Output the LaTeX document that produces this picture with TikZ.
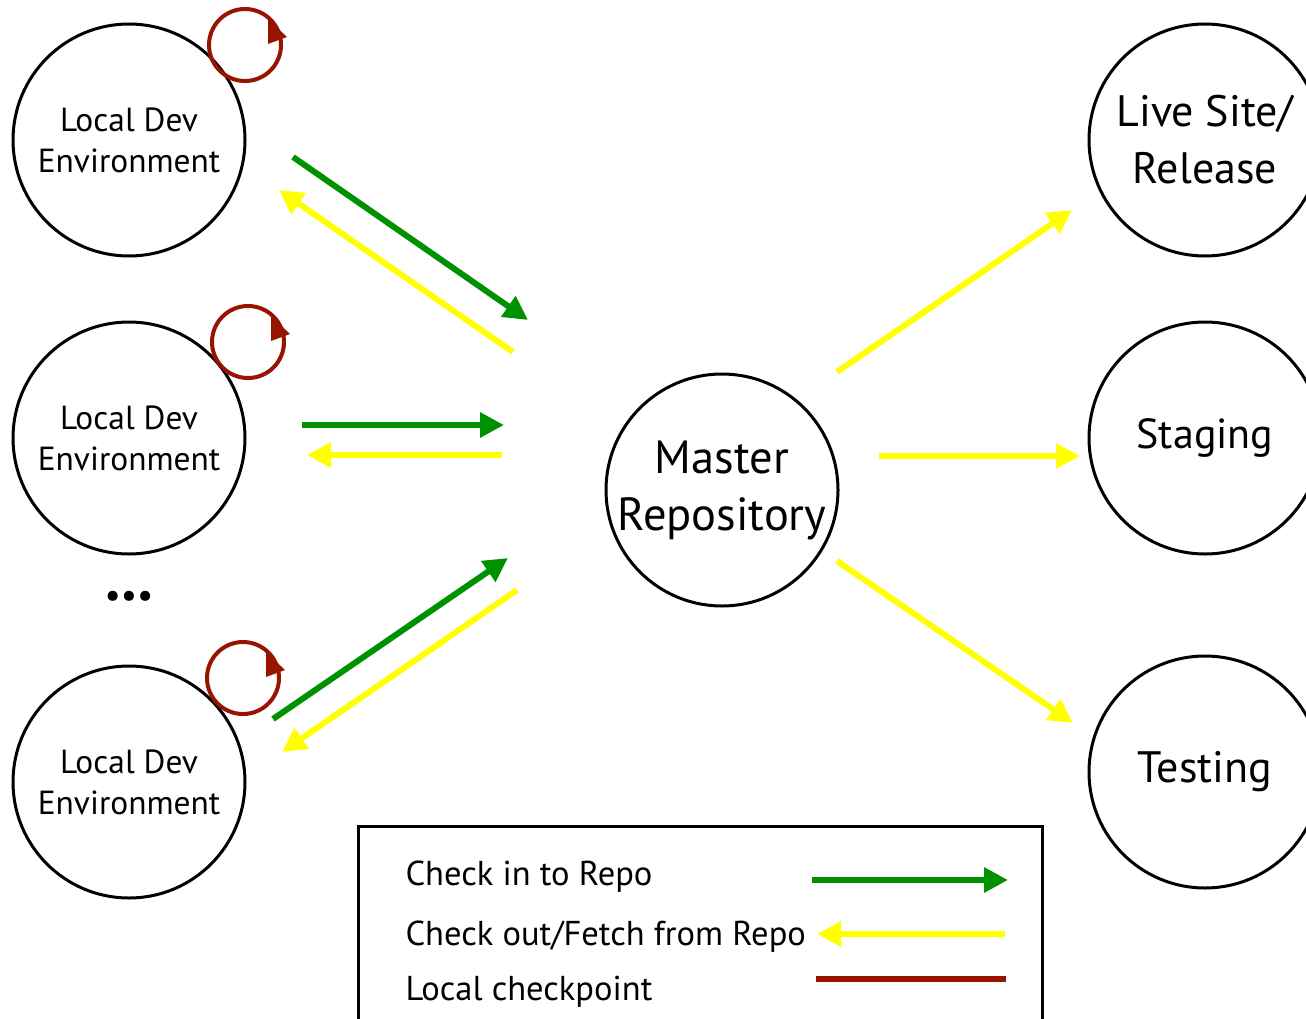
\documentclass[tikz,border=0pt]{standalone}
\usepackage{fontspec}
\setmainfont{PT Sans}
\usetikzlibrary{arrows.meta,calc}
\definecolor{ggreen}{RGB}{0,145,0}
\definecolor{gyellow}{RGB}{255,255,0}
\definecolor{gred}{RGB}{150,20,0}
\begin{document}
\begin{tikzpicture}[x=1pt,y=-1pt,
  env/.style={circle,draw,line width=3pt,minimum size=232pt,inner sep=0pt,align=center,font=\fontsize{33.4}{41}\selectfont},
  big/.style={env,font=\fontsize{44}{57}\selectfont},
  checkin/.style={draw=ggreen,line width=6pt,-{Triangle[length=24pt,width=24pt]}},
  checkout/.style={draw=gyellow,line width=6pt,-{Triangle[length=24pt,width=24pt]}},
  loop/.style={draw=gred,line width=4pt},
  loophead/.style={fill=gred},
  legtext/.style={anchor=base west,font=\fontsize{34.5}{38}\selectfont}]
\useasboundingbox (0,0) rectangle (1306,1019);
% nodes
\node[env] (l1) at (129,140) {Local Dev\\Environment};
\node[env] (l2) at (129,438) {Local Dev\\Environment};
\node[env] (l3) at (129,782) {Local Dev\\Environment};
\node[font=\fontsize{36}{36}\selectfont] (dots) at (129,599) {\textbullet\textbullet\textbullet};
\node[env,font=\fontsize{46.5}{57}\selectfont] (master) at (722,490) {Master\\Repository};
\node[big] (live) at (1205,140) {Live Site/\\Release};
\node[env,font=\fontsize{42}{57}\selectfont] (stage) at (1205,438) {Staging};
\node[big] (test) at (1205,772) {Testing};
% loops
\foreach \n/\cx/\cy in {a/245/45, b/248/342, c/243/678}{
  \coordinate (loop\n) at (\cx,\cy);
  \draw[loop] (loop\n) circle (36);
  \fill[loophead] ($(loop\n)+(23,-26)$) -- ++(0,25) -- ++(19,-7) -- cycle;
}
% arrow endpoints
\coordinate (g1s) at (293,157); \coordinate (g1e) at (528,320);
\coordinate (y1s) at (513,352); \coordinate (y1e) at (279,190);
\coordinate (g2s) at (302,425); \coordinate (g2e) at (504,425);
\coordinate (y2s) at (502,455); \coordinate (y2e) at (307,455);
\coordinate (g3s) at (273,719); \coordinate (g3e) at (508,558);
\coordinate (y3s) at (517,590); \coordinate (y3e) at (282,752);
\coordinate (r1s) at (837,372); \coordinate (r1e) at (1072,210);
\coordinate (r2s) at (879,456); \coordinate (r2e) at (1080,456);
\coordinate (r3s) at (837,561); \coordinate (r3e) at (1073,723);
\draw[checkin] (g1s) -- (g1e);
\draw[checkout] (y1s) -- (y1e);
\draw[checkin] (g2s) -- (g2e);
\draw[checkout] (y2s) -- (y2e);
\draw[checkin] (g3s) -- (g3e);
\draw[checkout] (y3s) -- (y3e);
\draw[checkout] (r1s) -- (r1e);
\draw[checkout] (r2s) -- (r2e);
\draw[checkout] (r3s) -- (r3e);
% legend
\draw[line width=3pt] (358,1030) -- (358,826) -- (1042,826) -- (1042,1030);
\node[legtext] (t1) at (402,885) {Check in to Repo};
\node[legtext] (t2) at (402,945) {Check out/Fetch from Repo};
\node[legtext] (t3) at (402,1000) {Local checkpoint};
\coordinate (lg1s) at (812,880); \coordinate (lg1e) at (1008,880);
\coordinate (lg2s) at (1005,934); \coordinate (lg2e) at (817,934);
\coordinate (lg3s) at (816,979); \coordinate (lg3e) at (1006,979);
\draw[checkin] (lg1s) -- (lg1e);
\draw[checkout] (lg2s) -- (lg2e);
\draw[loop,line width=6pt] (lg3s) -- (lg3e);
\end{tikzpicture}
\end{document}
